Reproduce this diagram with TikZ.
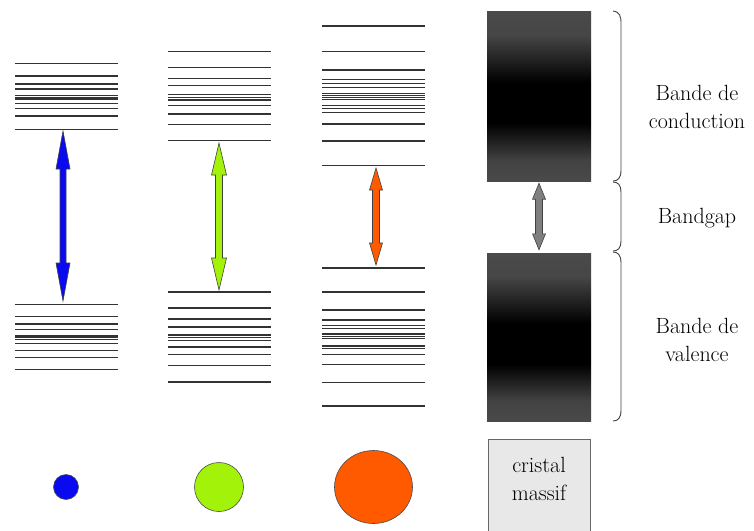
\documentclass[tikz,border=0pt]{standalone}
\usetikzlibrary{calc}
\definecolor{cblue}{HTML}{0A0AF0}
\definecolor{cgreen}{HTML}{A2F20A}
\definecolor{corange}{HTML}{FF5A00}
\definecolor{cgray}{HTML}{7F7F7F}
\definecolor{bandgray}{HTML}{4A4A4A}
\definecolor{boxfill}{HTML}{E8E8E8}
\pgfdeclareverticalshading{bandshade}{100bp}{%
  color(0bp)=(bandgray); color(25bp)=(bandgray); color(31bp)=(bandgray!90!black);
  color(42bp)=(black); color(54bp)=(black); color(68bp)=(bandgray!95!black); color(75bp)=(bandgray); color(100bp)=(bandgray)}
\newcommand\blockarrow[6]{%
  \draw[arrowline, fill=#6] (#1) -- ($(#1)+(#4,#3)$) -- ($(#1)+(#5,#3)$)
    -- ($(#2)+(#5,-#3)$) -- ($(#2)+(#4,-#3)$) -- (#2)
    -- ($(#2)+(-#4,-#3)$) -- ($(#2)+(-#5,-#3)$)
    -- ($(#1)+(-#5,#3)$) -- ($(#1)+(-#4,#3)$) -- cycle;}
\begin{document}
\begin{tikzpicture}[x=1pt,y=-1pt,
  level/.style={draw=black!80, line width=1.2pt},
  arrowline/.style={draw=black!75, line width=0.6pt, line join=miter},
  lbl/.style={font=\fontsize{22}{28}\selectfont, align=center, inner sep=0pt},
  dot/.style={draw=black!70, line width=0.6pt},
  bracestyle/.style={draw=black!75, line width=0.9pt}]
\useasboundingbox (0,0) rectangle (754,530);
% column 1
\foreach \y in {63.3,76,84,89,95.7,97.3,99,103.3,108.3,116,129.3,
                304.7,316.3,324,329.3,336,337.7,339.3,343.3,350.3,357.7,369.7}
  \draw[level] (15,\y) -- (118,\y);
% column 2
\foreach \y in {51.7,67.7,78.3,85.7,94.3,97.3,100,105.3,114,124.7,140.7,
                292,308,319,327,335,337.7,340.3,347,354.3,365.3,382}
  \draw[level] (168,\y) -- (271,\y);
% column 3
\foreach \y in {26,51.7,70,79.3,83.3,87.3,93.3,95.3,97.3,99.3,105.7,108.3,112.7,124,141,165.3,
                268,292,310,320,325.3,328.7,334,336.7,338.7,346,348.7,354.3,364.3,382.7,406}
  \draw[level] (322,\y) -- (425,\y);
% bulk crystal bands
\node[inner sep=0pt, minimum width=104pt, minimum height=170pt, shading=bandshade] (cb) at (539,96) {};
\node[inner sep=0pt, minimum width=104pt, minimum height=168pt, shading=bandshade] (vb) at (539,337) {};
% arrow end points
\coordinate (a1t) at (63,131);  \coordinate (a1b) at (63,301);
\coordinate (a2t) at (219,143); \coordinate (a2b) at (219,290);
\coordinate (a3t) at (376,168); \coordinate (a3b) at (376,265);
\coordinate (a4t) at ($(cb.south)+(0,2)$); \coordinate (a4b) at ($(vb.north)+(0,-3)$);
\blockarrow{a1t}{a1b}{38}{7}{3}{cblue}
\blockarrow{a2t}{a2b}{32}{7.5}{3.5}{cgreen}
\blockarrow{a3t}{a3b}{22}{6.5}{3.5}{corange}
\blockarrow{a4t}{a4b}{16}{6.5}{3.5}{cgray}
% braces
\draw[bracestyle] (613,11) .. controls (620,12) and (621,16) .. (621,24)
  -- (621,170) .. controls (621,178) and (618,181) .. (613,181);
\draw[bracestyle] (613,182) .. controls (618,182) and (621,185) .. (621,192)
  -- (621,241) .. controls (621,248) and (618,251) .. (613,251);
\draw[bracestyle] (613,252) .. controls (618,252) and (621,255) .. (621,263)
  -- (621,410) .. controls (621,418) and (618,421) .. (613,421);
% labels
\node[lbl] (lcond) at (697,107) {Bande de\\conduction};
\node[lbl] (lgap) at (697,218) {Bandgap};
\node[lbl] (lval) at (697,340) {Bande de\\valence};
% particles
\draw[dot, fill=cblue] (66,487) circle[radius=12.5];
\draw[dot, fill=cgreen] (219,487) circle[radius=24.5];
\draw[dot, fill=corange] (373.5,487) ellipse[x radius=39, y radius=36.5];
\draw[draw=black!60, line width=0.8pt, fill=boxfill] (488,439) rectangle (590,532);
\node[lbl] (bulk) at (539,479) {cristal\\massif};
\end{tikzpicture}
\end{document}
